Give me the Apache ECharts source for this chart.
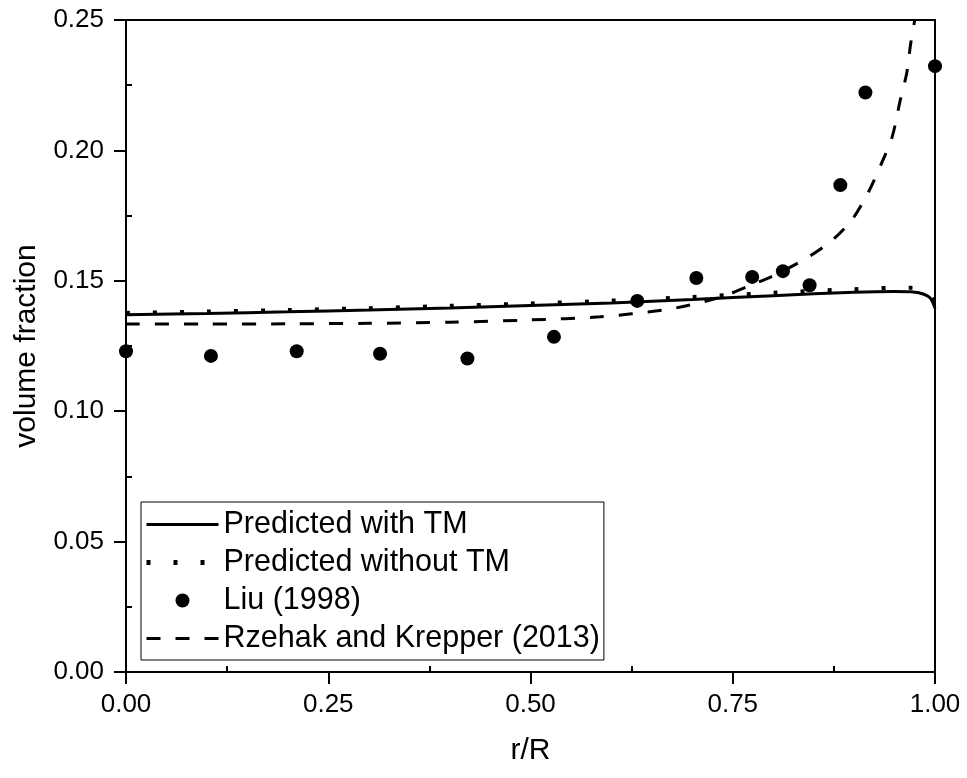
<!DOCTYPE html>
<html>
<head>
<meta charset="utf-8">
<title>volume fraction</title>
<script src="https://cdn.jsdelivr.net/npm/echarts@6/dist/echarts.min.js"></script>
<style>
  html, body { margin: 0; padding: 0; background: #fff; }
  #main { width: 967px; height: 778px; }
</style>
</head>
<body>
<div id="main"></div>
<script>
// 读图得到的数据
const xWithTM = [0, 0.1, 0.2, 0.3, 0.4, 0.5, 0.6, 0.7, 0.8, 0.9, 0.95, 0.97, 0.98, 0.99, 0.995, 1.0]
const yWithTM = [0.1370, 0.1375, 0.1381, 0.1388, 0.1396, 0.1405, 0.1415, 0.1428, 0.1443, 0.1456, 0.1459, 0.1458, 0.1454, 0.1443, 0.1430, 0.1395]

const xWithoutTM = [0, 0.1, 0.2, 0.3, 0.4, 0.5, 0.6, 0.7, 0.8, 0.9, 0.95, 0.97, 0.98, 0.99, 0.995, 1.0]
const yWithoutTM = [0.1377, 0.1382, 0.1388, 0.1395, 0.1404, 0.1413, 0.1424, 0.1438, 0.1454, 0.1468, 0.1473, 0.1473, 0.1469, 0.1457, 0.1443, 0.1405]

const xLiu = [0.0, 0.105, 0.211, 0.314, 0.422, 0.529, 0.632, 0.705, 0.774, 0.812, 0.845, 0.883, 0.914, 1.0]
const yLiu = [0.1230, 0.1212, 0.1230, 0.1220, 0.1202, 0.1285, 0.1423, 0.1511, 0.1515, 0.1537, 0.1483, 0.1867, 0.2222, 0.2323]

const xRzehak = [0, 0.1, 0.2, 0.3, 0.4, 0.5, 0.586, 0.664, 0.697, 0.737, 0.769, 0.802, 0.839, 0.870, 0.897, 0.917, 0.934, 0.947, 0.957, 0.965, 0.970, 0.975]
const yRzehak = [0.1334, 0.1334, 0.1335, 0.1337, 0.1341, 0.1350, 0.1362, 0.1388, 0.1407, 0.1439, 0.1479, 0.1522, 0.1583, 0.1648, 0.1733, 0.1836, 0.1951, 0.2051, 0.2192, 0.2296, 0.2411, 0.2500]

const xTicks = { min: 0, max: 1, interval: 0.25 }
const yTicks = { min: 0, max: 0.25, interval: 0.05 }

const FONT = "'Liberation Sans', Arial, sans-serif"

function pairs(xs, ys) {
  return xs.map((x, i) => [x, ys[i]])
}

const axisCommon = {
  type: 'value',
  axisLine: { show: true, lineStyle: { color: '#000', width: 2 } },
  axisTick: { show: true, length: 12, lineStyle: { color: '#000', width: 2 } },
  // 次刻度朝内
  minorTick: { show: true, splitNumber: 2, length: -6, lineStyle: { color: '#000', width: 2 } },
  splitLine: { show: false },
  axisLabel: {
    color: '#000',
    fontSize: 26,
    fontFamily: FONT,
    formatter: (v) => v.toFixed(2),
  },
  nameTextStyle: { color: '#000', fontSize: 30, fontFamily: FONT },
}

// 图例里线条不要圆点
const noDot = { opacity: 0, borderWidth: 0 }

const option = {
  animation: false,
  backgroundColor: '#fff',
  textStyle: { fontFamily: FONT },
  grid: {
    left: 126,
    right: 32,
    top: 20,
    bottom: 106,
    show: true,
    borderColor: '#000',
    borderWidth: 2,
  },
  xAxis: Object.assign({}, axisCommon, {
    min: xTicks.min,
    max: xTicks.max,
    interval: xTicks.interval,
    name: 'r/R',
    nameLocation: 'middle',
    nameGap: 64,
    axisLabel: Object.assign({}, axisCommon.axisLabel, { margin: 20 }),
  }),
  yAxis: Object.assign({}, axisCommon, {
    min: yTicks.min,
    max: yTicks.max,
    interval: yTicks.interval,
    name: 'volume fraction',
    nameLocation: 'middle',
    nameGap: 84,
    axisLabel: Object.assign({}, axisCommon.axisLabel, { margin: 22 }),
  }),
  legend: {
    orient: 'vertical',
    left: 141,
    top: 502,
    padding: [7, 4, 6, 3],
    itemWidth: 72,
    itemHeight: 14,
    itemGap: 7,
    borderColor: '#000',
    borderWidth: 1,
    textStyle: { color: '#000', fontSize: 30.5, fontFamily: FONT },
    data: [
      { name: 'Predicted with TM', itemStyle: noDot, lineStyle: { width: 3 } },
      { name: 'Predicted without TM', itemStyle: noDot, lineStyle: { width: 5 } },
      { name: 'Liu (1998)' },
      { name: 'Rzehak and Krepper (2013)', itemStyle: noDot, lineStyle: { width: 3 } },
    ],
  },
  series: [
    {
      name: 'Predicted with TM',
      type: 'line',
      data: pairs(xWithTM, yWithTM),
      symbol: 'none',
      smooth: 0.3,
      lineStyle: { color: '#000', width: 3 },
      itemStyle: { color: '#000' },
    },
    {
      name: 'Predicted without TM',
      type: 'line',
      data: pairs(xWithoutTM, yWithoutTM),
      symbol: 'none',
      smooth: 0.3,
      lineStyle: { color: '#000', width: 4, type: [4, 23] },
      itemStyle: { color: '#000' },
    },
    {
      name: 'Liu (1998)',
      type: 'scatter',
      data: pairs(xLiu, yLiu),
      symbol: 'circle',
      symbolSize: 14,
      clip: true,
      itemStyle: { color: '#000', opacity: 1 },
    },
    {
      name: 'Rzehak and Krepper (2013)',
      type: 'line',
      data: pairs(xRzehak, yRzehak),
      symbol: 'none',
      smooth: 0.3,
      lineStyle: { color: '#000', width: 3, type: [14, 15] },
      itemStyle: { color: '#000' },
    },
  ],
}

const chartDom = document.getElementById('main')
const myChart = echarts.init(chartDom)
option && myChart.setOption(option)
</script>
</body>
</html>
